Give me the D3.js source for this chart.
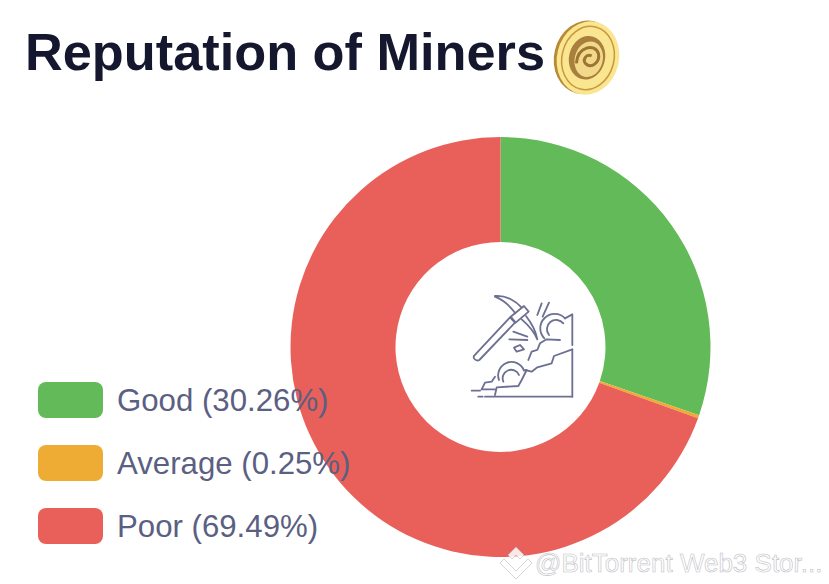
<!DOCTYPE html>
<html>
<head>
<meta charset="utf-8">
<script src="https://cdn.jsdelivr.net/npm/d3@7"></script>
<style>
  html, body { margin: 0; padding: 0; background: #fff; overflow: hidden; }
  text { font-family: "Liberation Sans", Arial, sans-serif; }
</style>
</head>
<body>
<svg id="chart" width="829" height="584"></svg>
<script>
const categories = ["Good", "Average", "Poor"];
const values = [30.26, 0.25, 69.49];
const colors = ["#63ba58", "#eeac34", "#e9605a"];
const title = "Reputation of Miners";
const watermark = "@BitTorrent Web3 Stor...";

const svg = d3.select("#chart");

// title
svg.append("text")
    .attr("x", 25)
    .attr("y", 70)
    .attr("fill", "#15172e")
    .attr("font-size", 52.3)
    .attr("font-weight", "bold")
    .text(title);

// coin next to the title
const coin = svg.append("g").attr("transform", "translate(588,58) rotate(14)");
coin.append("ellipse").attr("cx", -3).attr("rx", 31).attr("ry", 37).attr("fill", "#b98a35");
coin.append("ellipse").attr("cx", 0).attr("rx", 31).attr("ry", 37).attr("fill", "#fae590");
coin.append("ellipse").attr("cx", 0).attr("rx", 26).attr("ry", 32).attr("fill", "none").attr("stroke", "#c8983c").attr("stroke-width", 1.5);
coin.append("ellipse").attr("cx", -1).attr("rx", 18).attr("ry", 22).attr("fill", "#a87f3c");
coin.append("ellipse").attr("cx", 1).attr("cy", 1).attr("rx", 14).attr("ry", 18).attr("fill", "#f2d98a");
coin.append("path")
    .attr("d", "M-10,8C-13,-9 3,-16 9,-7C13,1 6,10 -1,6C-5,3 -3,-4 3,-3")
    .attr("fill", "none").attr("stroke", "#9c7433").attr("stroke-width", 3);

// donut
const pie = d3.pie().sort(null).value(function(d){ return d; });
const arc = d3.arc().innerRadius(105).outerRadius(210);
const donut = svg.append("g").attr("transform", "translate(500.5,347)");
donut.selectAll("path")
    .data(pie(values))
    .enter()
    .append("path")
    .attr("d", arc)
    .attr("fill", function(d, i){ return colors[i]; });

// miner icon in the middle
const icon = svg.append("g")
    .attr("transform", "translate(450,280) scale(0.3333)")
    .attr("fill", "none")
    .attr("stroke", "#6c7092")
    .attr("stroke-width", 5.5)
    .attr("stroke-linecap", "round")
    .attr("stroke-linejoin", "round");
[
  "M72,228L180,112L195,128L88,240C80,245 68,236 72,228Z",
  "M182,110L222,78L236,95L197,128Z",
  "M135,48C170,45 200,65 215,83M135,50C160,60 182,80 196,100",
  "M228,108C245,130 258,155 262,178C252,155 235,135 215,118",
  "M262,105L275,70M278,110L297,68",
  "M190,155L232,170M178,178L232,180M192,203L210,195L222,208L200,215Z",
  "M283,175A40,40 0 1 1 345,115M297,165A27,27 0 1 1 340,130",
  "M345,115L367,103L367,195M367,208L367,350",
  "M330,180L290,178L270,190L262,210L245,215L235,240",
  "M367,208L312,228L305,250L262,262L245,275L225,270",
  "M147,300A38,38 0 0 1 222,272M160,305A25,25 0 0 1 207,285",
  "M95,328L105,308L125,305L135,290",
  "M135,345L140,322L205,318L215,300L230,270",
  "M105,350L367,350M65,332L90,332M85,350L98,350M95,328L135,328"
].forEach(function(p){ icon.append("path").attr("d", p); });

// legend
const legend = svg.append("g").selectAll("g")
    .data(categories)
    .enter()
    .append("g")
    .attr("transform", function(d, i){ return "translate(38," + (382 + i * 63) + ")"; });
legend.append("rect")
    .attr("width", 65)
    .attr("height", 36)
    .attr("rx", 8)
    .attr("fill", function(d, i){ return colors[i]; });
legend.append("text")
    .attr("x", 79)
    .attr("y", 29)
    .attr("fill", "#5b5f82")
    .attr("font-size", 31.2)
    .text(function(d, i){ return d + " (" + values[i].toFixed(2) + "%)"; });

// watermark
const mark = svg.append("g").attr("opacity", 0.85);
mark.append("path")
    .attr("d", "M516,547L524,555L520,559L516,555L512,559L508,555ZM504,559L508,563L516,571L524,563L528,559L532,563L516,579L500,563Z")
    .attr("fill", "#fff")
    .attr("stroke", "#c4c4c8")
    .attr("stroke-width", 0.8);
mark.append("text")
    .attr("x", 535)
    .attr("y", 572)
    .attr("fill", "#fff")
    .attr("stroke", "#b5b5bb")
    .attr("stroke-width", 0.6)
    .attr("font-size", 26)
    .text(watermark);
</script>
</body>
</html>
